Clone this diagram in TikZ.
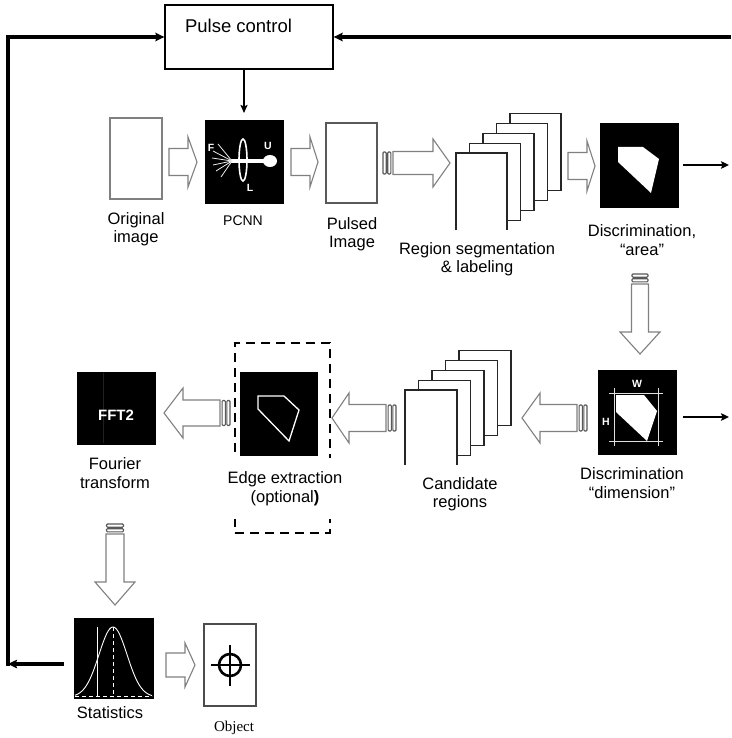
\documentclass[tikz,border=0pt]{standalone}
\usepackage{fontspec}
\setmainfont{Liberation Sans}
\newfontfamily\objfont{Liberation Serif}
\usetikzlibrary{arrows.meta}

\tikzset{
  lbl/.style={align=center, inner sep=0pt, font=\fontsize{16.5}{18.5}\selectfont},
  frame/.style={draw=gray, line width=1.3pt, fill=white, inner sep=0pt, outer sep=0pt},
  blackpanel/.style={draw=black, fill=black, inner sep=0pt, outer sep=0pt},
  fb/.style={line width=3.2pt, -{Stealth[length=9pt,width=8.5pt,inset=1.5pt]}},
  outarrow/.style={line width=2.4pt, -{Stealth[length=8pt,width=7.5pt,inset=1.5pt]}},
  harrow/.style={draw=gray, fill=white, line width=1.1pt, line join=miter},
  pagestyle/.style={draw=black!85, fill=white, line width=1.1pt},
  whitetag/.style={text=white, inner sep=0pt, font=\bfseries\fontsize{10.5}{10.5}\selectfont},
  pics/blockarrow/.style n args={4}{code={%
    \draw[harrow] (0,{-#3}) -- ({#1-#2},{-#3}) -- ({#1-#2},{-#4}) -- (#1,0)
      -- ({#1-#2},#4) -- ({#1-#2},#3) -- (0,#3) -- cycle;
  }},
  pics/stripedarrow/.style n args={4}{code={%
    \draw[harrow] (0,{-#3}) -- ({#1-#2},{-#3}) -- ({#1-#2},{-#4}) -- (#1,0)
      -- ({#1-#2},#4) -- ({#1-#2},#3) -- (0,#3) -- cycle;
    \draw[harrow, draw=gray!70!black, rounded corners=1pt] (-10,{-#3+0.5}) rectangle (-6.8,{#3-0.5});
    \draw[harrow, draw=gray!70!black, rounded corners=1pt] (-5.3,{-#3+0.5}) rectangle (-2.1,{#3-0.5});
  }},
}

% stack of sheets: front-left corner x, y, width, height
\newcommand\sheetstack[4]{%
  \foreach \i in {4,3,2,1}{
    \draw[pagestyle] ({#1+13.5*\i},{#2-9.9*\i}) rectangle ({#1+13.5*\i+#3},{#2-9.9*\i+#4});
  }
  \fill[white] (#1,#2) rectangle ({#1+#3},{#2+#4});
  \draw[pagestyle, fill=none] (#1,{#2+#4}) -- (#1,#2) -- ({#1+#3},#2) -- ({#1+#3},{#2+#4});
}

\begin{document}
\begin{tikzpicture}[x=1pt, y=-1pt]
\useasboundingbox (0,0) rectangle (731,738);
\fill[white] (0,0) rectangle (731,738);

% ---------- pulse control ----------
\node[draw, line width=1.3pt, minimum width=168pt, minimum height=64pt, inner sep=0pt] (pulse) at (249,37) {};
\node[inner sep=0pt, font=\fontsize{18.5}{20}\selectfont] (pulsetxt) at (238.5,26) {Pulse control};

% ---------- first row ----------
\node[frame, minimum width=52pt, minimum height=81pt] (orig) at (136,158.5) {};
\node[lbl] (origlbl) at (136,229) {Original\\image};

\node[blackpanel, minimum width=78pt, minimum height=83pt] (pcnn) at (244,161.5) {};
\draw[white, line width=3.5pt] (231,161) -- (265,161);
\fill[white] (270,161) ellipse [x radius=7, y radius=6];
\draw[white, line width=1.6pt] (243,160) ellipse [x radius=4, y radius=21];
\foreach \ex/\ey in {218/144, 213/151, 212/158, 213/165, 216/171, 221/177}
  \draw[white!85!gray, line width=0.8pt] (232,161) -- (\ex,\ey);
\node[whitetag] (tagF) at (211,148) {F};
\node[whitetag] (tagU) at (268,146) {U};
\node[whitetag] (tagL) at (250,188) {L};
\node[lbl, font=\fontsize{14}{16}\selectfont] (pcnnlbl) at (243,221) {PCNN};

\node[frame, draw=gray!70!black, minimum width=51pt, minimum height=80pt] (pulsed) at (351.5,163) {};
\node[lbl] (pulsedlbl) at (352,234) {Pulsed\\Image};

\sheetstack{456}{153}{51}{77}
\node[lbl] (regionlbl) at (477,259) {Region segmentation\\\& labeling};

\node[blackpanel, minimum width=78pt, minimum height=84pt] (area) at (639,165) {};
\fill[white] (618,147) -- (643,147) -- (659,159) -- (651,193) -- (618,162) -- cycle;
\node[lbl] (arealbl) at (642,240) {Discrimination,\\“area”};

% ---------- second row ----------
\node[blackpanel, minimum width=78pt, minimum height=84pt] (dim) at (637,412) {};
\fill[white] (616,395) -- (644,395) -- (657,411) -- (647,441) -- (616,412) -- cycle;
\draw[white!75!gray, line width=0.7pt] (609,393) -- (663,393) (609,441) -- (663,441)
  (614,388) -- (614,446) (658,388) -- (658,446);
\node[whitetag] (tagW) at (637,384) {W};
\node[whitetag] (tagH) at (606,422) {H};
\node[lbl] (dimlbl) at (632,483) {Discrimination\\“dimension”};

\sheetstack{405}{390}{52}{75}
\node[lbl] (candlbl) at (460,494) {Candidate\\regions};

\node[draw, dash pattern=on 9pt off 6pt, line width=1.5pt, minimum width=95pt, minimum height=190pt, inner sep=0pt] (optbox) at (282.5,438) {};
\node[blackpanel, minimum width=77pt, minimum height=83pt] (edge) at (278.5,413.5) {};
\draw[white, line width=1.3pt] (258,396) -- (284,396) -- (299,410) -- (289,441) -- (258,409) -- cycle;
\node[lbl, fill=white, inner xsep=1pt, inner ysep=14pt] (edgelbl) at (285,488.5) {Edge extraction\\(optional\textbf{)}};

\node[blackpanel, minimum width=78pt, minimum height=72pt] (fft) at (116,408) {};
\draw[gray!25!black, line width=0.6pt] (103,373) -- (103,443);
\node[text=white, inner sep=0pt, font=\bfseries\fontsize{15}{15}\selectfont] (ffttxt) at (116,415) {FFT2};
\node[lbl] (fftlbl) at (115,473) {Fourier\\transform};

% ---------- third row ----------
\node[blackpanel, minimum width=79pt, minimum height=80pt] (stats) at (113.5,658) {};
\draw[white, line width=0.9pt] plot[domain=75:152, samples=70, smooth] (\x,{697-70*exp(-((\x-113)^2)/392)});
\draw[white, line width=0.8pt] (97,627) -- (97,697);
\draw[white, line width=1pt, dash pattern=on 4pt off 3pt] (113,627) -- (113,697);
\draw[white, line width=0.8pt, dash pattern=on 4pt off 3pt] (75,696) -- (152,696);
\node[lbl] (statslbl) at (110,713) {Statistics};

\node[frame, draw=gray!60!black, minimum width=52pt, minimum height=82pt] (object) at (230,665) {};
\draw[line width=2.6pt] (230,665) circle [radius=11];
\draw[line width=2.6pt] (211,665) -- (250,665) (230,645) -- (230,686);
\node[lbl, font=\objfont\fontsize{15}{17}\selectfont] (objlbl) at (234,728) {Object};

% ---------- hollow block arrows ----------
\pic at (169,162) {blockarrow={28}{9}{13.5}{25}};
\pic at (291,162) {blockarrow={27}{8}{13.5}{25}};
\pic at (393,163) {stripedarrow={57}{17}{11.5}{24}};
\pic at (568,166) {blockarrow={27}{8}{13.5}{25}};
\pic[rotate=-90] at (640,284) {stripedarrow={70}{22}{8.5}{20}};
\pic[rotate=180] at (577,418) {stripedarrow={55}{18}{13.5}{25}};
\pic[rotate=180] at (386,418) {stripedarrow={54}{17}{13.5}{25}};
\pic[rotate=180] at (220,413) {stripedarrow={56}{19}{13}{25}};
\pic[rotate=-90] at (115,534) {stripedarrow={71}{23}{9}{20}};
\pic at (166,665) {blockarrow={29}{10}{12}{22}};

% ---------- feedback and control lines ----------
\coordinate (rightend) at (731,37);
\coordinate (cornerL) at (8,664);
\coordinate (fbstart) at (64,664);
\coordinate (areaout) at (729,165);
\coordinate (dimout) at (729,417);

\draw[fb] (rightend) -- (pulse.east);
\draw[fb] (fbstart) -- (cornerL);
\draw[fb] ([yshift=-1.6pt]cornerL) |- (pulse.west);
\draw[line width=2pt, -{Stealth[length=8pt,width=7pt,inset=1.5pt]}] (pcnn.north |- pulse.south) -- ([yshift=7pt]pcnn.north);
\draw[outarrow] ([xshift=5pt]area.east) -- (areaout);
\draw[outarrow] ([xshift=7pt]dim.east |- dimout) -- (dimout);
\end{tikzpicture}
\end{document}
